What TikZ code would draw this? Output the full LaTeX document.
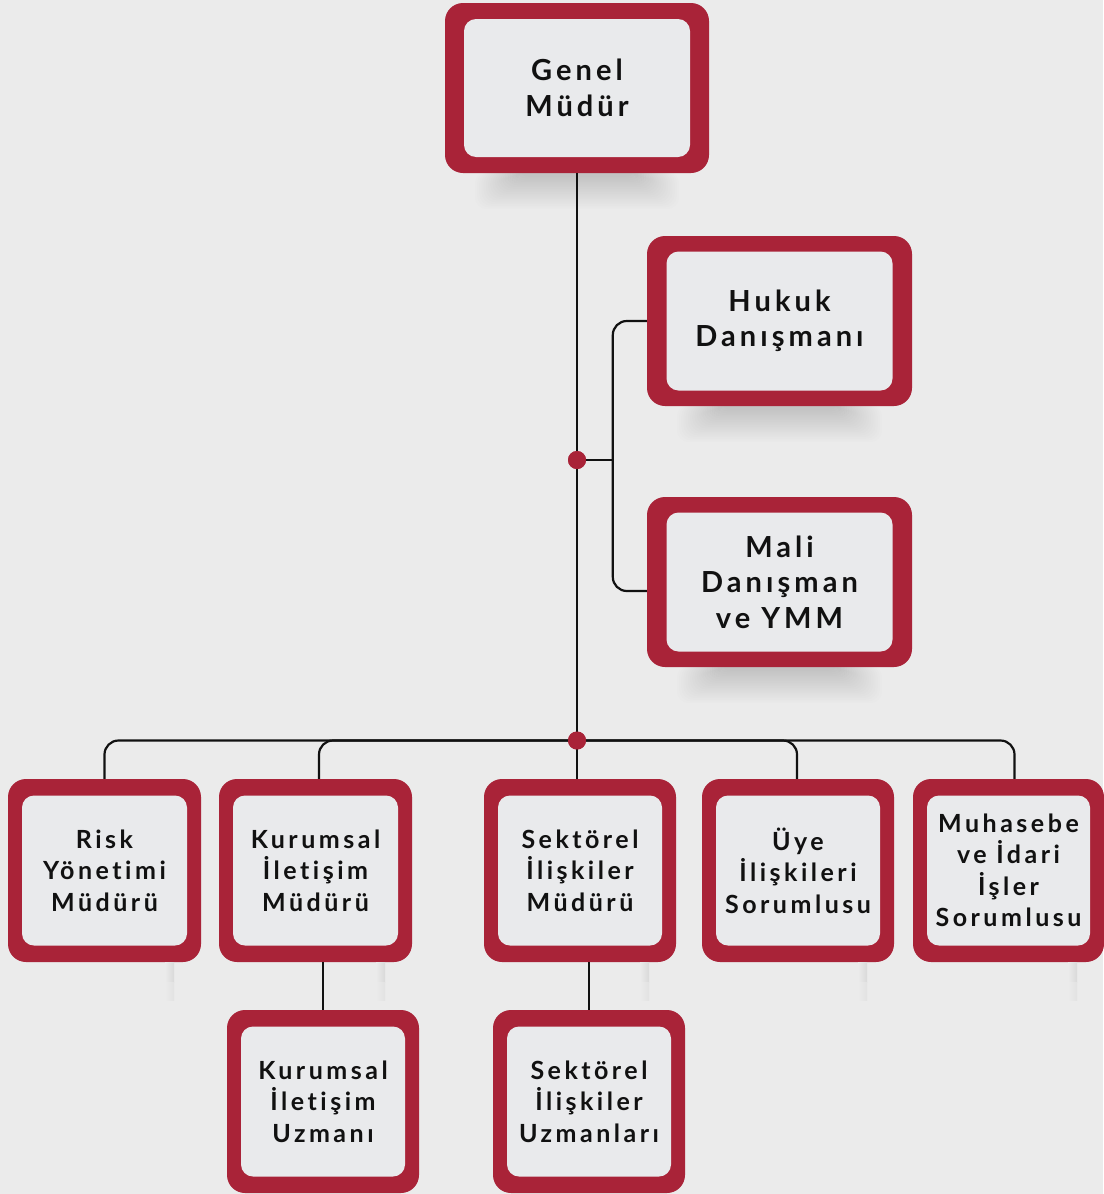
\documentclass[tikz,border=0pt]{standalone}
\usepackage{fontspec}
\setmainfont{Lato}[LetterSpace=14, Ligatures={NoCommon}]
\usetikzlibrary{calc}
\definecolor{bgc}{HTML}{EBEBEB}
\definecolor{boxred}{HTML}{A92338}
\definecolor{boxin}{HTML}{E9EAEC}
\definecolor{ink}{HTML}{111111}
\newcommand\orgbox[9]{%
  \node[outerbox, minimum width=#4pt, minimum height=#5pt] (#1) at (#2,#3) {};
  \node[innerbox, #9, minimum width=#4pt-2*#6pt, minimum height=#5pt-2*#7pt] (#1in) at (#1) {#8};}
\newcommand\softshadow[1]{%
  \foreach \i in {0,...,19}{
    \fill[black, opacity=0.0075, rounded corners=12pt]
      ($(#1.south west)+(30+\i*2.2,-2)$) rectangle ($(#1.south east)+(-30-\i*2.2,36-\i*1.7)$);}}
\newcommand\sidestrip[1]{%
  \shade[left color=bgc, right color=black!8!bgc]
    ($(#1.south east)+(-36,0)$) rectangle ($(#1.south east)+(-27,20)$);
  \shade[left color=bgc, right color=black!4!bgc]
    ($(#1.south east)+(-36,20)$) rectangle ($(#1.south east)+(-27,38)$);}
\tikzset{
  outerbox/.style={fill=boxred, rounded corners=18pt, inner sep=0pt, draw=none},
  innerbox/.style={fill=boxin, rounded corners=12pt, inner sep=0pt, align=center, text=ink},
  bigtext/.style={font=\fontsize{29}{35.5}\selectfont\bfseries},
  smalltext/.style={font=\fontsize{25}{31.5}\selectfont\bfseries},
  conn/.style={line width=2.2pt, draw=ink, rounded corners=14pt},
  jdot/.style={circle, fill=boxred, inner sep=0pt, minimum size=18pt}
}
\begin{document}
\begin{tikzpicture}[x=1pt,y=-1pt]
\fill[bgc] (0,0) rectangle (1103,1194);
\useasboundingbox (0,0) rectangle (1103,1194);

% invisible anchors for shadows (same geometry as boxes)
\node[minimum width=264pt, minimum height=170pt, inner sep=0pt] (s1) at (577,88) {};
\node[minimum width=265pt, minimum height=170pt, inner sep=0pt] (s2) at (779.5,321) {};
\node[minimum width=265pt, minimum height=170pt, inner sep=0pt] (s3) at (779.5,582) {};
\softshadow{s1}
\softshadow{s2}
\softshadow{s3}

% boxes
\orgbox{gm}{577}{88}{264}{170}{19}{16}{Genel\\Müdür}{bigtext}
\orgbox{huk}{779.5}{321}{265}{170}{19.5}{15.5}{Hukuk\\Danışmanı}{bigtext}
\orgbox{mali}{779.5}{582}{265}{170}{19.5}{15.5}{Mali\\Danışman\\ve YMM}{bigtext}

\orgbox{risk}{104.5}{870.5}{193}{183}{14}{16.5}{Risk\\Yönetimi\\Müdürü}{smalltext}
\orgbox{kurM}{315.5}{870.5}{193}{183}{14}{16.5}{Kurumsal\\İletişim\\Müdürü}{smalltext}
\orgbox{sekM}{580}{870.5}{192}{183}{14}{16.5}{Sektörel\\İlişkiler\\Müdürü}{smalltext}
\orgbox{uye}{798}{870.5}{192}{183}{14}{16.5}{Üye\\İlişkileri\\Sorumlusu}{smalltext}
\orgbox{muh}{1008.5}{870.5}{191}{183}{14}{16.5}{Muhasebe\\ve İdari\\İşler\\Sorumlusu}{smalltext}

\orgbox{kurU}{323}{1101.5}{192}{183}{14}{16.5}{Kurumsal\\İletişim\\Uzmanı}{smalltext}
\orgbox{sekU}{589}{1101.5}{192}{183}{14}{16.5}{Sektörel\\İlişkiler\\Uzmanları}{smalltext}

\sidestrip{risk}
\sidestrip{kurM}
\sidestrip{sekM}
\sidestrip{uye}
\sidestrip{muh}

% junction dots
\node[jdot] (dot1) at (577,460) {};
\node[jdot] (dot2) at (577,740.5) {};
\coordinate (hv) at (613,460);

% connectors
\draw[conn] (gm.south) -- (dot2.center);
\draw[conn] (huk.west) -- ++(-34,0) |- ([yshift=-9pt]mali.west);
\draw[conn] (dot1.center) -- (hv);
\draw[conn] (risk.north) |- (dot2.center) -| ([xshift=6pt]muh.north);
\draw[conn] ([xshift=3.5pt]kurM.north) |- (dot2.center);
\draw[conn] ([xshift=-1pt]uye.north) |- (dot2.center);
\draw[conn] (dot2.center) -- (dot2.center |- sekM.north);
\draw[conn] (kurU.north) -- (kurU.north |- kurM.south);
\draw[conn] (sekU.north) -- (sekU.north |- sekM.south);

% dots on top
\node[jdot] at (dot1) {};
\node[jdot] at (dot2) {};
\end{tikzpicture}
\end{document}
